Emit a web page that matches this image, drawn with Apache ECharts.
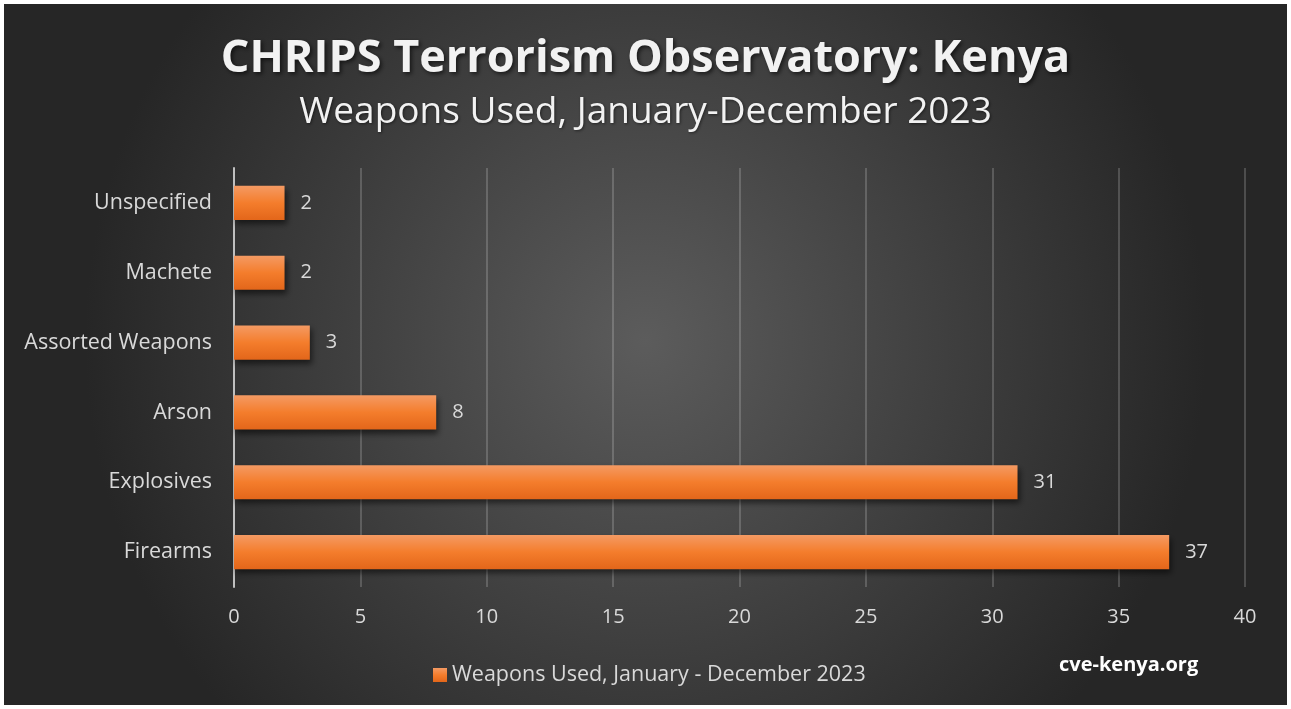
<!DOCTYPE html>
<html><head><meta charset="utf-8">
<script src="https://cdn.jsdelivr.net/npm/echarts@6/dist/echarts.min.js"></script>
<style>
html,body{margin:0;padding:0;background:#fff;}
#c{position:absolute;left:4px;top:4px;width:1283px;height:701px;}
</style></head>
<body><div id="c"></div>
<script>
const categories = ['Firearms','Explosives','Arson','Assorted Weapons','Machete','Unspecified'];
const values = [37,31,8,3,2,2];
const xTicks = [0,5,10,15,20,25,30,35,40];
const seriesName = 'Weapons Used, January - December 2023';
const titleText = 'CHRIPS Terrorism Observatory: Kenya';
const subtitleText = 'Weapons Used, January-December 2023';
const credit = 'cve-kenya.org';

const chart = echarts.init(document.getElementById('c'));
const font = 'Open Sans, Noto Sans, sans-serif';
chart.setOption({
  backgroundColor: {type:'radial', x:0.5, y:0.48, r:0.8,
    colorStops:[{offset:0,color:'#5c5c5c'},{offset:1,color:'#262626'}]},
  title: [{
    text: titleText, left:'center', top:28,
    textStyle:{color:'#f2f2f2', fontSize:45, fontWeight:'bold', fontFamily:font,
      textShadowColor:'rgba(0,0,0,0.6)', textShadowBlur:4, textShadowOffsetX:2, textShadowOffsetY:2}
  },{
    text: subtitleText, left:'center', top:85,
    textStyle:{color:'#f2f2f2', fontSize:37, fontWeight:'normal', fontFamily:font,
      textShadowColor:'rgba(0,0,0,0.5)', textShadowBlur:3, textShadowOffsetX:1, textShadowOffsetY:1}
  },{
    text: credit, left:1050, top:646,
    textStyle:{color:'#ffffff', fontSize:20, fontWeight:'bold', fontFamily:font}
  }],
  legend: {
    data:[seriesName], left:424, top:655, itemWidth:14, itemHeight:14, itemGap:6,
    icon:'rect',
    textStyle:{color:'#d9d9d9', fontSize:21.5, fontFamily:font}
  },
  grid: {left:230, right:42, top:164, bottom:118, containLabel:false},
  xAxis: {
    type:'value', min:0, max:40, interval:5,
    axisLine:{show:false}, axisTick:{show:false},
    splitLine:{show:true, lineStyle:{color:'rgba(255,255,255,0.18)', width:2}},
    axisLabel:{color:'#d9d9d9', fontSize:20, fontFamily:font, margin:20,
      formatter: v => xTicks.includes(v) ? String(v) : ''}
  },
  yAxis: {
    type:'category', data:categories,
    axisLine:{show:true, lineStyle:{color:'#bfbfbf', width:2}},
    axisTick:{show:false},
    axisLabel:{color:'#d9d9d9', fontSize:21.5, fontFamily:font, margin:22}
  },
  series: [{
    name: seriesName, type:'bar', data: values, barWidth:'49%',
    itemStyle:{
      color:{type:'linear', x:0,y:0,x2:0,y2:1, colorStops:[
        {offset:0,color:'#f49a63'},{offset:0.5,color:'#f47d2c'},{offset:1,color:'#e3661a'}]},
      shadowColor:'rgba(0,0,0,0.55)', shadowBlur:6, shadowOffsetX:2, shadowOffsetY:4
    },
    label:{show:true, position:'right', distance:16, color:'#d9d9d9', fontSize:20, fontFamily:font}
  }]
});
</script></body></html>
